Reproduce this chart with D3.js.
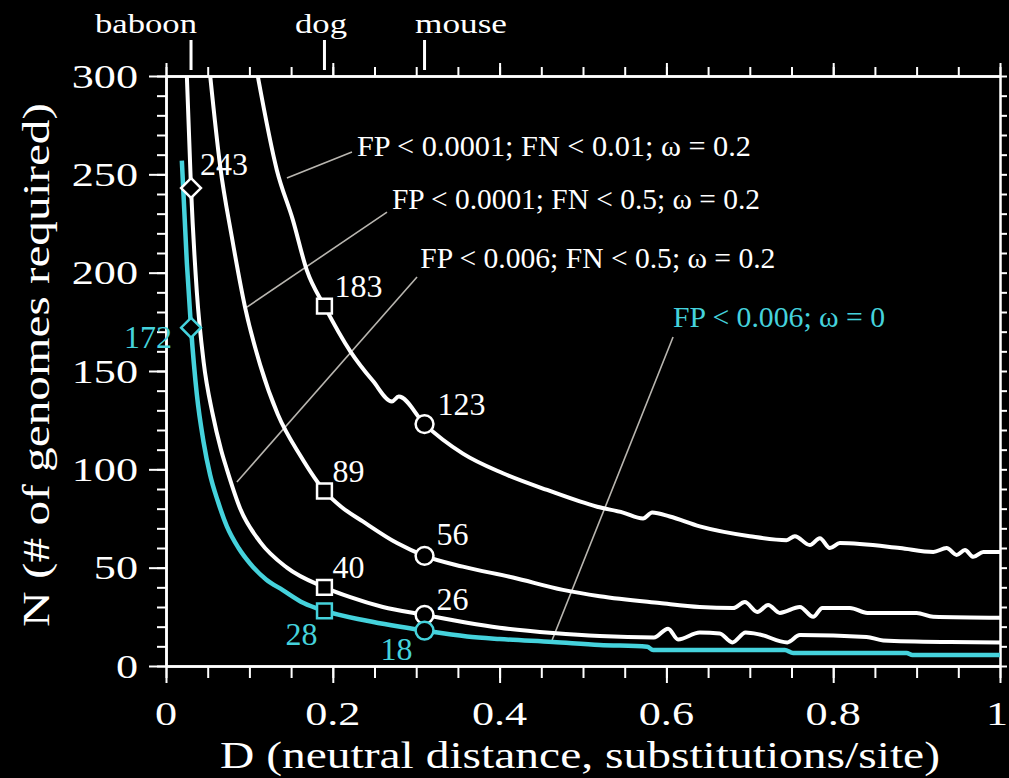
<!DOCTYPE html>
<html>
<head>
	<meta charset="utf-8">
	<title>Genomes required vs neutral distance</title>
	<style>
		body {
			margin: 0;
			background: #000;
		}
		svg {
			display: block;
			background: #000;
		}
		text {
			font-family: 'Liberation Serif', 'Times New Roman', serif;
			fill: #fff;
		}
	</style>
</head>
<body>
	<svg width='1009' height='778'></svg>
<script src='https://d3js.org/d3.v7.min.js'></script>
<script>

	// values, each point is [D, N]
	// FP < 0.0001; FN < 0.01; w = 0.2
	let curveA = [[0.110,300],[0.133,252],[0.152,227],[0.169,201],[0.19,183],[0.221,160],[0.248,145],
		[0.271,134.5],[0.279,137],[0.31,123],[0.356,108],[0.404,98],[0.457,89.5],[0.517,81],[0.548,78],
		[0.572,75],[0.583,78],[0.604,76],[0.640,71],[0.700,66],[0.744,64],[0.754,66],[0.772,61.5],[0.784,65],
		[0.796,60],[0.808,62.5],[0.880,60],[0.920,58],[0.936,60],[0.948,56.5],[0.958,59],[0.968,55.5],
		[0.980,58],[1.0,58]]

	// FP < 0.0001; FN < 0.5; w = 0.2
	let curveB = [[0.053,300],[0.065,254],[0.079,218],[0.095,182],[0.113,153],[0.134,128],[0.161,107],
		[0.19,89],[0.21,81],[0.236,73.5],[0.277,62.5],[0.31,56],[0.356,50.5],[0.416,45],[0.476,38.7],[0.520,35.5],
		[0.592,32],[0.640,30],[0.680,29.5],[0.694,32.5],[0.709,27.5],[0.722,31],[0.736,27],[0.760,30],
		[0.776,25],[0.787,29.5],[0.820,29.5],[0.841,27],[0.900,27],[0.920,25],[1.0,24.5]]

	// FP < 0.006; FN < 0.5; w = 0.2
	let curveC = [[0.025,300],[0.03,243],[0.037,190],[0.045,155],[0.056,128],[0.066,110],[0.073,100],
		[0.089,80],[0.113,63],[0.145,50],[0.19,40],[0.221,35],[0.26,30],[0.31,26],[0.361,22],[0.40,19.5],
		[0.464,16.8],[0.520,15.2],[0.585,14.5],[0.602,19],[0.614,13.5],[0.640,17],[0.664,16.5],[0.679,12],
		[0.695,17],[0.712,16],[0.745,12],[0.760,15.7],[0.840,14.8],[0.860,13],[0.940,12.2],[1.0,12]]

	// FP < 0.006; w = 0
	let curveD = [[0.019,257],[0.025,205],[0.03,172],[0.037,138],[0.045,114],[0.053,97],[0.062,84],
		[0.073,71],[0.087,60],[0.101,52],[0.12,44],[0.14,38.6],[0.165,32],[0.19,28],[0.241,23],[0.31,18],
		[0.361,15],[0.40,13.7],[0.464,12.2],[0.52,10.7],[0.577,9.8],[0.584,8.1],[0.742,8.1],[0.752,6.6],
		[0.888,6.6],[0.895,5.6],[1.0,5.6]]

	// species on the top axis and their distances
	let species = ['baboon', 'dog', 'mouse']
	let speciesD = [0.03, 0.19, 0.31]

	// marked values on each curve, [D, N]
	let markA = [[0.19,183],[0.31,123]]
	let markB = [[0.19,89],[0.31,56]]
	let markC = [[0.03,243],[0.19,40],[0.31,26]]
	let markD = [[0.03,172],[0.19,28],[0.31,18]]

	let noteText = [
		'FP < 0.0001; FN < 0.01; ω = 0.2',
		'FP < 0.0001; FN < 0.5; ω = 0.2',
		'FP < 0.006; FN < 0.5; ω = 0.2',
		'FP < 0.006; ω = 0'
	]

	let xTicks = [0, 0.2, 0.4, 0.6, 0.8, 1]
	let xTickLabels = ['0', '0.2', '0.4', '0.6', '0.8', '1']
	let yTicks = [0, 50, 100, 150, 200, 250, 300]
	let yTickLabels = ['0', '50', '100', '150', '200', '250', '300']

	let white = '#ffffff'
	let cyan = '#45d2dc'
	let grey = '#b9b6b0'

	let svg = d3.select('svg')

	let x = d3.scaleLinear().domain([0, 1]).range([166, 1000])
	let y = d3.scaleLinear().domain([0, 300]).range([666, 76])

	// axes, ticks only (labels drawn by hand further down)
	function styleAxis(g) {
		g.select('.domain').attr('stroke', white).attr('stroke-width', 2.5)
		g.selectAll('.tick line').attr('stroke', white).attr('stroke-width', 2)
		g.selectAll('.tick text').remove()
	}

	let minorX = d3.range(0, 1.0001, 0.05)
	let minorY = d3.range(0, 300.1, 10)

	svg.append('g').attr('transform', 'translate(0,666)')
		.call(d3.axisBottom(x).tickValues(minorX).tickSize(12).tickSizeOuter(0)).call(styleAxis)
	svg.append('g').attr('transform', 'translate(0,666)')
		.call(d3.axisBottom(x).tickValues(xTicks).tickSize(17).tickSizeOuter(0)).call(styleAxis)

	svg.append('g').attr('transform', 'translate(0,76)')
		.call(d3.axisTop(x).tickValues(minorX).tickSize(9).tickSizeOuter(0)).call(styleAxis)
	svg.append('g').attr('transform', 'translate(0,76)')
		.call(d3.axisTop(x).tickValues(xTicks).tickSize(13).tickSizeOuter(0)).call(styleAxis)

	svg.append('g').attr('transform', 'translate(166,0)')
		.call(d3.axisLeft(y).tickValues(minorY).tickSize(9).tickSizeOuter(0)).call(styleAxis)
	svg.append('g').attr('transform', 'translate(166,0)')
		.call(d3.axisLeft(y).tickValues(yTicks).tickSize(17).tickSizeOuter(0)).call(styleAxis)

	svg.append('g').attr('transform', 'translate(1000,0)')
		.call(d3.axisRight(y).tickValues(minorY).tickSize(7).tickSizeOuter(0)).call(styleAxis)

	// tick labels, the original font is a wide Times
	// (last one pulled in a little so it stays on the page)
	svg.append('g')
		.selectAll('text')
		.data(xTicks)
		.join('text')
		.attr('transform', d => `translate(${d == 1 ? 1008 : x(d)},725) scale(1.3,1)`)
		.attr('text-anchor', d => d == 1 ? 'end' : 'middle')
		.style('font-size', '34px')
		.text((d, i) => xTickLabels[i])

	svg.append('g')
		.selectAll('text')
		.data(yTicks)
		.join('text')
		.attr('transform', d => `translate(138,${y(d) + 11.5}) scale(1.3,1)`)
		.attr('text-anchor', 'end')
		.style('font-size', '34px')
		.text((d, i) => yTickLabels[i])

	// axis titles
	svg.append('text')
		.attr('x', 220)
		.attr('y', 768)
		.attr('textLength', 720)
		.attr('lengthAdjust', 'spacingAndGlyphs')
		.style('font-size', '38px')
		.text('D (neutral distance, substitutions/site)')

	svg.append('text')
		.attr('transform', 'translate(49,627) rotate(-90)')
		.attr('textLength', 524)
		.attr('lengthAdjust', 'spacingAndGlyphs')
		.style('font-size', '38px')
		.text('N (# of genomes required)')

	// species markers above the top axis
	let speciesLabelX = [146, 321, 461]
	let speciesLabelW = [102, 52, 92]

	svg.append('g')
		.selectAll('line')
		.data(speciesD)
		.join('line')
		.attr('x1', d => x(d))
		.attr('x2', d => x(d))
		.attr('y1', 40)
		.attr('y2', 70)
		.attr('stroke', white)
		.attr('stroke-width', 3)

	svg.append('g')
		.selectAll('text')
		.data(species)
		.join('text')
		.attr('x', (d, i) => speciesLabelX[i])
		.attr('y', 33)
		.attr('text-anchor', 'middle')
		.attr('textLength', (d, i) => speciesLabelW[i])
		.attr('lengthAdjust', 'spacingAndGlyphs')
		.style('font-size', '28px')
		.text(d => d)

	// leader lines and curve names; start, end given in data units
	let noteLine = [
		[[0.223, 261.4], [0.145, 248.1]],
		[[0.265, 230.8], [0.097, 182.5]],
		[[0.301, 197.8], [0.085, 93.6]],
		[[0.608, 167.3], [0.463, 13.2]]
	]
	let notePos = [[0.229, 259.3], [0.271, 232.4], [0.305, 202.4], [0.608, 172.4]]
	let noteW = [394, 368, 355, 212]
	let noteColor = [white, white, white, cyan]

	svg.append('g')
		.selectAll('line')
		.data(noteLine)
		.join('line')
		.attr('x1', d => x(d[0][0]))
		.attr('y1', d => y(d[0][1]))
		.attr('x2', d => x(d[1][0]))
		.attr('y2', d => y(d[1][1]))
		.attr('stroke', grey)
		.attr('stroke-width', 1.6)

	svg.append('g')
		.selectAll('text')
		.data(noteText)
		.join('text')
		.attr('x', (d, i) => x(notePos[i][0]))
		.attr('y', (d, i) => y(notePos[i][1]))
		.attr('textLength', (d, i) => noteW[i])
		.attr('lengthAdjust', 'spacingAndGlyphs')
		.style('font-size', '30px')
		.style('fill', (d, i) => noteColor[i])
		.text(d => d)

	// the curves
	svg.append('clipPath')
		.attr('id', 'plot-clip')
		.append('rect')
		.attr('x', x(0))
		.attr('y', y(300))
		.attr('width', x(1) - x(0) + 2)
		.attr('height', y(0) - y(300))

	let line = d3.line()
		.x(d => x(d[0]))
		.y(d => y(d[1]))
		.curve(d3.curveMonotoneX)

	let curves = [
		{ pts: curveA, color: white },
		{ pts: curveB, color: white },
		{ pts: curveC, color: white },
		{ pts: curveD, color: cyan }
	]

	svg.append('g')
		.attr('clip-path', 'url(#plot-clip)')
		.selectAll('path')
		.data(curves)
		.join('path')
		.attr('d', d => line(d.pts))
		.style('fill', 'none')
		.style('stroke', d => d.color)
		.style('stroke-width', d => d.color == cyan ? 4.5 : 4)
		.style('stroke-linejoin', 'round')

	// markers: diamond for baboon, square for dog, circle for mouse
	let shapeFor = (dval) => {
		if (dval < 0.1) {
			return d3.symbol().type(d3.symbolDiamond2).size(250)()
		} else if (dval < 0.25) {
			return d3.symbol().type(d3.symbolSquare2).size(280)()
		} else {
			return d3.symbol().type(d3.symbolCircle).size(250)()
		}
	}

	// label offsets in px: [dx, dy, anchor]
	let marks = [
		{ pts: markA, color: white, off: [[10, -9, 'start'], [13, -9, 'start']] },
		{ pts: markB, color: white, off: [[8, -9, 'start'], [12, -11, 'start']] },
		{ pts: markC, color: white, off: [[9, -13, 'start'], [8, -9, 'start'], [12, -5, 'start']] },
		{ pts: markD, color: cyan, off: [[-19, 20, 'end'], [-7, 34, 'end'], [-12, 29, 'end']] }
	]

	marks.forEach(m => {
		let g = svg.append('g')

		g.selectAll('path')
			.data(m.pts)
			.join('path')
			.attr('transform', d => `translate(${x(d[0])},${y(d[1])})`)
			.attr('d', d => shapeFor(d[0]))
			.style('fill', '#000')
			.style('stroke', m.color)
			.style('stroke-width', 2.5)

		g.selectAll('text')
			.data(m.pts)
			.join('text')
			.attr('x', (d, i) => x(d[0]) + m.off[i][0])
			.attr('y', (d, i) => y(d[1]) + m.off[i][1])
			.attr('text-anchor', (d, i) => m.off[i][2])
			.style('font-size', '32px')
			.style('fill', m.color)
			.text(d => d[1])
	})

</script>
</body>
</html>
